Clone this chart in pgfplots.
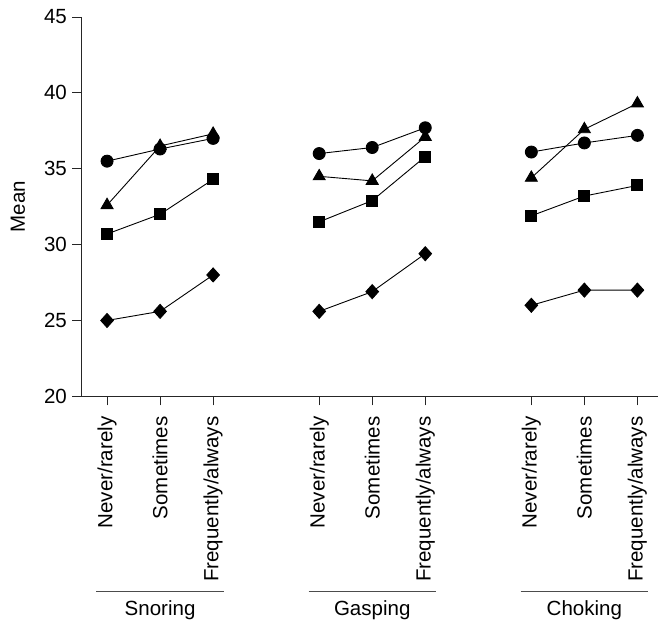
\documentclass[border=0pt]{standalone}
\usepackage{fontspec}
\setmainfont{Liberation Sans}
\usepackage{pgfplots}
\pgfplotsset{compat=1.18}
\begin{document}
\begin{tikzpicture}[font=\fontsize{20.5}{24}\selectfont]
\begin{axis}[
  scale only axis,
  width=576pt, height=379pt,
  xmin=-0.49, xmax=10.38,
  ymin=20, ymax=45,
  axis lines=left,
  axis line style={-, black!85, line width=0.9pt},
  tick style={black!85, line width=0.9pt},
  tick align=outside,
  major tick length=9pt,
  ytick={20,25,30,35,40,45},
  xtick={0,1,2,4,5,6,8,9,10},
  xticklabels={Never/rarely,Sometimes,Frequently/always,Never/rarely,Sometimes,Frequently/always,Never/rarely,Sometimes,Frequently/always},
  xticklabel style={rotate=90, anchor=east, inner sep=11pt},
  yticklabel style={inner sep=5pt},
  /pgf/number format/assume math mode=true,
  unbounded coords=jump,
  clip=false,
  every axis plot/.append style={black, line width=0.9pt},
]
\addplot[mark=*, mark size=6pt] coordinates {(0,35.5)(1,36.3)(2,37.0)(3,nan)(4,36.0)(5,36.4)(6,37.7)(7,nan)(8,36.1)(9,36.7)(10,37.2)};
\addplot[mark=triangle*, mark size=6.9pt] coordinates {(0,32.6)(1,36.5)(2,37.3)(3,nan)(4,34.5)(5,34.2)(6,37.1)(7,nan)(8,34.4)(9,37.6)(10,39.3)};
\addplot[mark=square*, mark size=5.5pt] coordinates {(0,30.7)(1,32.0)(2,34.3)(3,nan)(4,31.5)(5,32.9)(6,35.8)(7,nan)(8,31.9)(9,33.2)(10,33.9)};
\addplot[mark=diamond*, mark size=7pt, mark options={xscale=1.2}] coordinates {(0,25.0)(1,25.6)(2,28.0)(3,nan)(4,25.6)(5,26.9)(6,29.4)(7,nan)(8,26.0)(9,27.0)(10,27.0)};
\node[rotate=90] at ([xshift=-63pt]rel axis cs:0,0.5) {Mean};
\draw[black!70, line width=0.9pt] (axis cs:-0.2,7.14) -- (axis cs:2.2,7.14);
\draw[black!70, line width=0.9pt] (axis cs:3.8,7.14) -- (axis cs:6.2,7.14);
\draw[black!70, line width=0.9pt] (axis cs:7.8,7.14) -- (axis cs:10.2,7.14);
\node at (axis cs:1,5.9) {Snoring};
\node at (axis cs:5,5.9) {Gasping};
\node at (axis cs:9,5.9) {Choking};
\path ([xshift=-81pt,yshift=17pt]rel axis cs:0,1) coordinate (tl);
\path ([yshift=-227pt]rel axis cs:1,0) coordinate (br);
\path (tl) rectangle (br);
\end{axis}
\end{tikzpicture}
\end{document}
